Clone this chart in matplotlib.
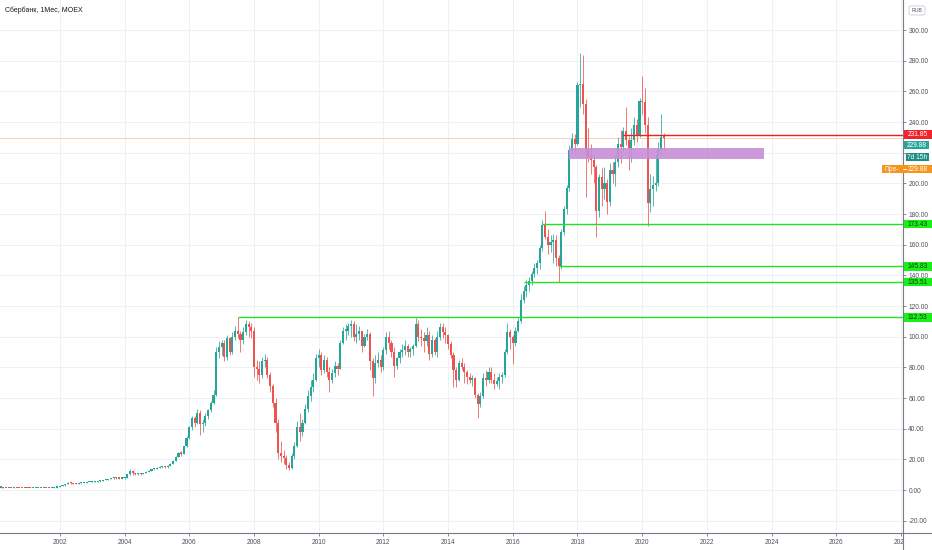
import numpy as np
import matplotlib
matplotlib.use("Agg")
import matplotlib.pyplot as plt
from matplotlib.patches import Rectangle, FancyBboxPatch
from matplotlib.lines import Line2D
from matplotlib.transforms import IdentityTransform

plt.rcParams['font.family'] = ['Liberation Sans', 'DejaVu Sans']

# Сбербанк monthly candles, Jan 2000 .. Sep 2020 (open = previous close)
first_open = 1.40
close = [
    1.45, 1.60, 1.70, 1.55, 1.40, 1.50, 1.42, 1.55, 1.45, 1.30, 1.20, 1.25,   # 2000
    1.20, 1.10, 1.10, 1.20, 1.30, 1.40, 1.30, 1.30, 1.20, 1.40, 1.60, 1.90,   # 2001
    2.4, 3.0, 3.8, 4.6, 4.5, 4.1, 4.0, 4.3, 4.6, 4.8, 5.0, 5.2,               # 2002
    5.3, 5.4, 5.6, 6.0, 6.3, 6.6, 7.0, 7.6, 8.0, 7.8, 7.5, 7.6,               # 2003
    8.1, 10.2, 12.3, 10.8, 10.3, 10.6, 10.4, 11.1, 12.0, 12.6, 13.5, 13.9,    # 2004
    14.5, 15.1, 15.3, 14.9, 15.9, 17.2, 19.0, 21.6, 24.4, 23.8, 28.6, 34.0,   # 2005
    41, 47, 44, 50, 43, 44, 48, 52, 57, 62, 90, 93,                           # 2006
    96, 87, 99, 90, 100, 104, 102, 98, 103, 108, 106, 104,                    # 2007
    80, 79, 75, 84, 85, 75, 68, 57, 44, 24, 22, 21,                           # 2008
    16, 14.5, 22, 29, 41, 38, 44, 53, 61, 67, 72, 86,                         # 2009
    88, 78, 85, 77, 72, 76, 81, 79, 96, 104, 104, 107,                        # 2010
    108, 100, 102, 104, 94, 100, 102, 84, 73, 83, 85, 80,                     # 2011
    91, 100, 96, 90, 81, 86, 90, 91, 94, 90, 92, 94,                          # 2012
    108, 100, 99, 97, 101, 89, 98, 90, 100, 106, 103, 101,                    # 2013
    95, 88, 78, 72, 83, 80, 77, 74, 72, 73, 62, 56,                           # 2014
    61, 73, 72, 77, 72, 69, 71, 74, 75, 90, 103, 100,                         # 2015
    96, 104, 110, 124, 130, 134, 136, 141, 145, 148, 158, 173,                # 2016
    165, 160, 162, 163, 151, 146, 168, 183, 197, 222, 229, 226,               # 2017
    264, 265, 252, 222, 218, 215, 211, 182, 204, 196, 200, 188,               # 2018
    209, 206, 214, 226, 224, 234, 228, 223, 228, 238, 231, 254,               # 2019
    253, 238, 187, 196, 199, 200, 222, 230, 229.88,                           # 2020
]
high = [
    1.55, 1.70, 1.85, 1.75, 1.60, 1.60, 1.55, 1.65, 1.60, 1.50, 1.35, 1.35,
    1.35, 1.25, 1.20, 1.30, 1.40, 1.50, 1.45, 1.40, 1.35, 1.50, 1.70, 2.00,
    2.6, 3.2, 4.0, 5.0, 4.9, 4.7, 4.4, 4.5, 4.8, 5.0, 5.2, 5.4,
    5.6, 5.7, 5.8, 6.2, 6.6, 6.9, 7.3, 8.0, 8.5, 8.3, 8.0, 7.9,
    8.4, 10.6, 13.5, 12.8, 11.0, 11.0, 10.9, 11.4, 12.3, 13.0, 13.9, 14.2,
    15.0, 15.6, 15.9, 15.6, 16.2, 17.5, 19.5, 22.0, 25.0, 25.5, 29.0, 35.0,
    42, 48, 48, 53, 52, 46, 50, 53, 58, 65, 93, 97,
    98, 98, 101, 100, 103, 107, 112.53, 104, 106, 111, 110, 109,
    106, 85, 84, 87, 89, 87, 77, 69, 60, 46, 32, 26,
    23, 18, 24, 31, 45, 50, 46, 56, 65, 72, 76, 89,
    92, 90, 88, 87, 80, 79, 84, 83, 98, 106, 108, 109,
    111, 110, 108, 107, 104, 102, 105, 103, 86, 88, 90, 88,
    93, 103, 104, 98, 93, 87, 92, 95, 98, 95, 93, 95,
    112, 111, 105, 103, 106, 104, 101, 99, 104, 109, 109, 106,
    102, 97, 90, 80, 85, 86, 83, 78, 76, 75, 74, 63,
    64, 76, 78, 80, 80, 76, 74, 76, 77, 92, 109, 105,
    101, 106, 112, 128, 133, 137, 139, 143, 148, 150, 160, 176,
    182, 170, 166, 167, 166, 153, 170, 185, 199, 225, 233, 232,
    266, 285, 284, 255, 236, 226, 220, 212, 206, 210, 211, 203,
    213, 214, 218, 230, 235, 237, 250, 231, 236, 243, 242, 256,
    270, 262, 243, 206, 205, 219, 227, 245, 233,
]
low = [
    1.30, 1.40, 1.55, 1.45, 1.30, 1.35, 1.35, 1.40, 1.35, 1.25, 1.10, 1.15,
    1.10, 1.00, 1.00, 1.05, 1.15, 1.25, 1.20, 1.20, 1.10, 1.15, 1.35, 1.55,
    1.8, 2.3, 2.9, 3.7, 4.2, 3.9, 3.7, 3.9, 4.2, 4.4, 4.7, 4.9,
    5.0, 5.1, 5.2, 5.5, 5.9, 6.2, 6.5, 6.9, 7.5, 7.3, 7.0, 7.1,
    7.4, 7.9, 10.0, 10.0, 9.5, 9.8, 9.9, 10.2, 11.0, 11.8, 12.5, 13.2,
    13.6, 14.2, 14.6, 14.2, 14.6, 15.6, 17.0, 18.8, 21.5, 22.0, 23.5, 28.0,
    33, 39, 41, 43, 36, 38, 42, 46, 51, 56, 61, 86,
    88, 84, 85, 88, 89, 98, 99, 90, 95, 101, 100, 99,
    74, 72, 70, 73, 80, 73, 64, 54, 38, 20, 18, 17,
    14, 13, 14, 20, 28, 32, 35, 43, 51, 58, 64, 71,
    80, 75, 76, 74, 64, 70, 74, 75, 79, 95, 98, 101,
    100, 97, 96, 98, 90, 93, 98, 78, 61, 70, 80, 77,
    78, 89, 92, 87, 74, 79, 83, 87, 88, 87, 87, 88,
    93, 97, 94, 90, 94, 85, 87, 88, 87, 98, 99, 96,
    92, 86, 67, 67, 71, 78, 70, 69, 70, 68, 60, 47,
    54, 60, 68, 70, 70, 66, 68, 66, 70, 74, 89, 92,
    82, 94, 103, 109, 122, 126, 130, 134, 139, 141, 144, 156,
    164, 154, 155, 148, 146, 135.51, 144, 166, 180, 195, 219, 221,
    225, 250, 245, 191, 214, 206, 200, 165, 178, 185, 190, 180,
    185, 200, 198, 211, 213, 221, 225, 209, 214, 225, 227, 230,
    245, 233, 172, 181, 185, 195, 198, 218, 222,
]

# drawn levels
support_levels = [112.53, 135.51, 145.83, 173.43]
support_from = [2007 + 6/12, 2016 + 4/12, 2017 + 5/12, 2016 + 11/12]
resistance = 231.85
resistance_from = 2019 + 5/12
zone_low, zone_high = 216.2, 223.0
zone_from, zone_to = 2017 + 9/12, 2023 + 9/12
last_price = 229.88
countdown = '7d 15h'

close = np.array(close)
high = np.array(high)
low = np.array(low)
t = 2000 + np.arange(len(close)) / 12
opens = np.r_[first_open, close[:-1]]

UP, DOWN = '#26a69a', '#ef5350'
GREEN, RED = '#22e022', '#f01e1e'

fig = plt.figure(figsize=(9.32, 5.5), dpi=100)
ax = fig.add_axes([0, 17.3/550, 903.3/932, 532.7/550])
ax.set_xlim(2000.151, 2028.07)
ax.set_ylim(-27.85, 319.6)

cols = np.where(close >= opens, UP, DOWN)
ax.vlines(t, low, high, colors=cols, lw=0.55, zorder=3)
body = np.maximum(np.abs(close - opens), 0.7)
ax.bar(t, body, bottom=np.minimum(opens, close), width=0.065, color=cols, lw=0, zorder=4)

ax.axhline(last_price, color='#f6c9a4', lw=0.6, zorder=2)
ax.add_patch(Rectangle((zone_from, zone_low), zone_to - zone_from, zone_high - zone_low,
                       fc='#c78ed6', ec='none', alpha=0.9, zorder=5))
ax.hlines(support_levels, support_from, 2028.07, colors=GREEN, lw=1.0, zorder=6)
ax.hlines(resistance, resistance_from, 2028.07, colors=RED, lw=1.0, zorder=6)

# axes look
ax.set_xticks(range(2002, 2029, 2))
ax.set_xticklabels([str(y) for y in range(2002, 2029, 2)])
yt = list(range(-20, 301, 20))
ax.set_yticks(yt)
# 220.00 sits under the price tags in the reference
ax.set_yticklabels(['' if v == 220 else f'{v:.2f}' for v in yt])
ax.yaxis.tick_right()
ax.tick_params(axis='both', labelsize=4.8, labelcolor='#50535e', color='#787b86',
               length=2.2, width=0.6)
ax.tick_params(axis='y', pad=1.4)
ax.tick_params(axis='x', pad=2.6)
ax.grid(color='#edf0f5', lw=0.7, zorder=0)
ax.set_axisbelow(True)
for s in ['top', 'left']:
    ax.spines[s].set_visible(False)
for s in ['right', 'bottom']:
    ax.spines[s].set_color('#787b86')
    ax.spines[s].set_linewidth(0.8)

ident = IdentityTransform()
# cover the cut x label under the price scale, extend the scale lines
fig.add_artist(Rectangle((903.8, 0), 30, 17.0, transform=ident, fc='white', ec='none', zorder=5))
fig.add_artist(Line2D([903.3, 903.3], [0, 18], transform=ident, color='#787b86', lw=0.8, zorder=6))
fig.add_artist(Line2D([903, 932], [17.3, 17.3], transform=ident, color='#787b86', lw=0.8, zorder=6))


def ypix(price):
    return ax.transData.transform((2010, price))[1]


def tag(price, text, fc, tc='white', shift=0, x0=903.6, x1=932):
    y = ypix(price) - shift
    fig.add_artist(Rectangle((x0, y - 4.2), x1 - x0, 8.4, transform=ident,
                             fc=fc, ec='none', zorder=7))
    fig.text((x0 + x1) / 2, y, text, transform=ident, ha='center', va='center',
             fontsize=4.8, color=tc, zorder=8)


tag(resistance, f'{resistance:.2f}', '#f2232a')
tag(last_price, f'{last_price:.2f}', UP, shift=7.5, x1=929)
tag(last_price, countdown, '#1f8f84', shift=19.5, x0=906, x1=929)
for lv in support_levels:
    tag(lv, f'{lv:.2f}', '#18f018', tc='#123a12')

# pre-market tag
yo = ypix(last_price) - 31.5
fig.add_artist(Rectangle((881.7, yo - 4.2), 50.3, 8.4, transform=ident, fc='#f7941d',
                         ec='none', zorder=7))
fig.text(892, yo, 'Пре-', transform=ident, ha='center', va='center', fontsize=4.8,
         color='white', zorder=8)
fig.text(918, yo, f'{last_price:.2f}', transform=ident, ha='center', va='center',
         fontsize=4.8, color='white', zorder=8)
fig.add_artist(Line2D([903.3, 906], [yo, yo], transform=ident, color='white', lw=0.6, zorder=8))

# currency badge and title
fig.add_artist(FancyBboxPatch((909, 535), 16, 9, boxstyle='round,pad=0,rounding_size=2',
                              transform=ident, fc='white', ec='#c8cbd3', lw=0.6, zorder=7))
fig.text(917, 539.5, 'RUB', transform=ident, ha='center', va='center', fontsize=3.8,
         color='#50535e', zorder=8)
fig.text(5, 540, 'Сбербанк, 1Мес, MOEX', transform=ident, ha='left', va='center',
         fontsize=5, color='#131722')

fig.savefig('out.png', dpi=100)
